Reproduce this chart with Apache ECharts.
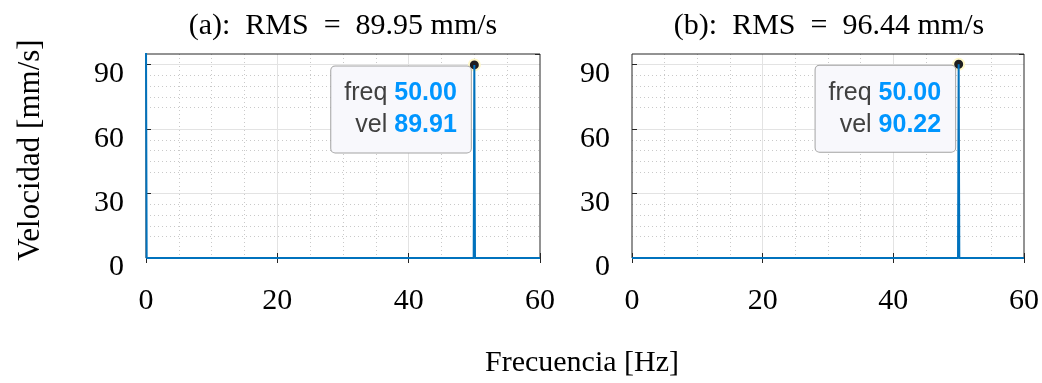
<!DOCTYPE html>
<html>
<head>
<meta charset="utf-8">
<script src="https://cdn.jsdelivr.net/npm/echarts@6/dist/echarts.min.js"></script>
<style>
html,body{margin:0;padding:0;background:#fff;}
#chart{width:1042px;height:383px;}
</style>
</head>
<body>
<div id="chart"></div>
<script>
// ---- data ----
const titles = ['(a):  RMS  =  89.95 mm/s', '(b):  RMS  =  96.44 mm/s'];
const freqA = [0, 0.1, 49.9, 50, 50.1, 60];
const velA  = [100, 0, 0, 89.91, 0, 0];
const freqB = [0, 49.9, 50, 50.1, 60];
const velB  = [0, 0, 90.22, 0, 0];
const tipA = [50.00, 89.91];
const tipB = [50.00, 90.22];
const xTicks = [0, 20, 40, 60];
const yTicks = [0, 30, 60, 90];
const xLabel = 'Frecuencia [Hz]';
const yLabel = 'Velocidad [mm/s]';

const X_MIN = 0, X_MAX = 60, X_INT = 20;
const Y_MIN = 0, Y_MAX = 95, Y_INT = 30, Y_MINOR = 5;

const serif = 'Liberation Serif';
const sans = 'Liberation Sans';
const boxColor = '#262626';
const majorGrid = '#e3e3e3';
const minorGrid = '#c9c9c9';
const lineBlue = '#0072BD';

const grids = [
  {left: 146, top: 54, width: 394, height: 204, show: true, borderColor: boxColor, borderWidth: 1, backgroundColor: 'transparent', z: 5},
  {left: 632, top: 54, width: 395, height: 204, show: true, borderColor: boxColor, borderWidth: 1, backgroundColor: 'transparent', z: 5}
];

const xAxes = [], yAxes = [];
[0, 1].forEach(function (g) {
  xAxes.push({
    type: 'value', gridIndex: g, position: 'bottom', min: X_MIN, max: X_MAX, interval: X_INT,
    axisLine: {show: false},
    axisTick: {show: true, inside: true, length: 5, lineStyle: {color: boxColor, width: 1}},
    axisLabel: {show: true, margin: 28, fontFamily: serif, fontSize: 30, color: '#000',
      formatter: function (v) { return xTicks.indexOf(v) >= 0 ? String(v) : ''; }},
    splitLine: {show: true, showMinLine: false, showMaxLine: false, lineStyle: {color: majorGrid, width: 1}},
    minorTick: {show: false, splitNumber: 4},
    minorSplitLine: {show: true, lineStyle: {color: minorGrid, width: 1, type: [1, 3]}}
  });
  xAxes.push({
    type: 'value', gridIndex: g, position: 'top', min: X_MIN, max: X_MAX, interval: X_INT,
    axisLine: {show: false},
    axisTick: {show: true, inside: true, length: 5, lineStyle: {color: boxColor, width: 1}},
    axisLabel: {show: false}, splitLine: {show: false}
  });
  yAxes.push({
    type: 'value', gridIndex: g, position: 'left', min: Y_MIN, max: Y_MAX, interval: Y_INT,
    axisLine: {show: false},
    axisTick: {show: true, inside: true, length: 5, lineStyle: {color: boxColor, width: 1}},
    axisLabel: {show: true, margin: 22, color: '#000', showMaxLabel: false,
      formatter: function (v) { return yTicks.indexOf(v) >= 0 ? '{t|' + v + '}' : ''; },
      rich: {t: {fontFamily: serif, fontSize: 30, color: '#000', padding: [19, 0, 0, 0]}}},
    splitLine: {show: true, showMinLine: false, showMaxLine: false, lineStyle: {color: majorGrid, width: 1}},
    z: 2
  });
  yAxes.push({
    type: 'value', gridIndex: g, position: 'left', min: Y_MIN, max: Y_MAX, interval: Y_MINOR,
    axisLine: {show: false}, axisTick: {show: false}, axisLabel: {show: false},
    splitLine: {show: true, showMinLine: false, showMaxLine: false,
      lineStyle: {color: ['rgba(0,0,0,0)', minorGrid, minorGrid, minorGrid, minorGrid, minorGrid], width: 1, type: [1, 3]}},
    z: 1
  });
  yAxes.push({
    type: 'value', gridIndex: g, position: 'right', min: Y_MIN, max: Y_MAX, interval: Y_INT,
    axisLine: {show: false},
    axisTick: {show: true, inside: true, length: 5, lineStyle: {color: boxColor, width: 1}},
    axisLabel: {show: false}, splitLine: {show: false}
  });
});

function tipLabel(tip) {
  return {
    show: true,
    position: [3, 8],
    align: 'right',
    verticalAlign: 'top',
    backgroundColor: '#f8f8fc',
    borderColor: '#a3a3a3',
    borderWidth: 1,
    borderRadius: 4,
    padding: [11, 14, 11, 13],
    lineHeight: 32,
    formatter: function () {
      return '{n|freq }{v|' + tip[0].toFixed(2) + '}\n{n|vel }{v|' + tip[1].toFixed(2) + '}';
    },
    rich: {
      n: {fontFamily: sans, fontSize: 25, color: '#404040', lineHeight: 32},
      v: {fontFamily: sans, fontSize: 25, color: '#0096ff', fontWeight: 'bold', lineHeight: 32}
    }
  };
}

function makeSeries(freq, vel, tip, g) {
  return {
    type: 'line', xAxisIndex: g * 2, yAxisIndex: g * 3,
    data: freq.map(function (f, i) { return [f, vel[i]]; }),
    showSymbol: false, symbol: 'none',
    lineStyle: {color: lineBlue, width: 2},
    clip: true, animation: false, z: 6,
    markPoint: {
      animation: false,
      symbol: 'circle', symbolSize: 11,
      itemStyle: {color: '#1e1e1e', borderColor: '#fff8c8', borderWidth: 2},
      label: tipLabel(tip),
      data: [{coord: [tip[0], tip[1]]}]
    }
  };
}

const chart = echarts.init(document.getElementById('chart'), null, {renderer: 'canvas'});
chart.setOption({
  animation: false,
  backgroundColor: '#fff',
  grid: grids,
  xAxis: xAxes,
  yAxis: yAxes,
  series: [makeSeries(freqA, velA, tipA, 0), makeSeries(freqB, velB, tipB, 1)],
  graphic: [
    {type: 'text', x: 343, y: 26, style: {text: titles[0], fontFamily: serif, fontSize: 30, fill: '#000', textAlign: 'center', textVerticalAlign: 'middle'}},
    {type: 'text', x: 829, y: 26, style: {text: titles[1], fontFamily: serif, fontSize: 30, fill: '#000', textAlign: 'center', textVerticalAlign: 'middle'}},
    {type: 'text', x: 582, y: 363, style: {text: xLabel, fontFamily: serif, fontSize: 30, fill: '#000', textAlign: 'center', textVerticalAlign: 'middle'}},
    {type: 'text', x: 31, y: 150, rotation: Math.PI / 2, style: {text: yLabel, fontFamily: serif, fontSize: 31, fill: '#000', textAlign: 'center', textVerticalAlign: 'middle'}}
  ]
});
</script>
</body>
</html>
